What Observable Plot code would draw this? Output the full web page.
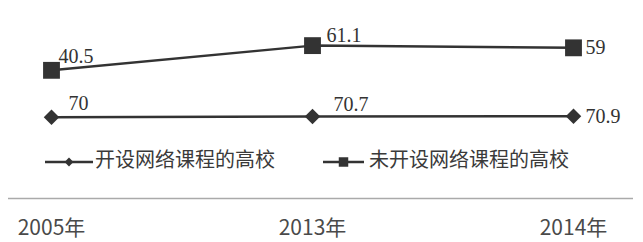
<!DOCTYPE html>
<html>
<head>
<meta charset="utf-8">
<script src="https://cdn.jsdelivr.net/npm/d3@7"></script>
<script src="https://cdn.jsdelivr.net/npm/@observablehq/plot@0.6"></script>
<style>
  html, body { margin: 0; padding: 0; background: #fff; }
  #chart svg { display: block; }
</style>
</head>
<body>
<div id="chart"></div>
<script>
// ---- data ----
const years = ["2005", "2013", "2014"];
const seriesNames = ["开设网络课程的高校", "未开设网络课程的高校"];
const offered = [70, 70.7, 70.9];        // 开设网络课程的高校
const notOffered = [40.5, 61.1, 59];     // 未开设网络课程的高校 (stacked on top)

const rows = [];
years.forEach((y, i) => rows.push({year: y, series: seriesNames[0], value: offered[i], i}));
years.forEach((y, i) => rows.push({year: y, series: seriesNames[1], value: notOffered[i], i}));

const ink = "#333";
const sansCJK = "'Noto Sans CJK SC', 'Noto Sans', sans-serif";
const stk = opts => Plot.stackY2({x: "year", y: "value", z: "series", ...opts});

// label only the selected point; others get empty text (stack still uses all rows)
const labelOf = (series, idx) => d => (d.series === series && (idx.includes(d.i))) ? String(d.value) : "";
const labelStyle = {textAnchor: "start", lineAnchor: "middle",
  fontFamily: "'Liberation Serif', serif", fontSize: 20, fill: ink};

const legend = () => {
  const g = d3.create("svg:g").attr("text-anchor", "start");
  const items = [
    {name: seriesNames[0], x0: 45, x1: 93, sym: d3.symbolDiamond2, size: 50, tx: 95},
    {name: seriesNames[1], x0: 323, x1: 364, sym: d3.symbolSquare, size: 90, tx: 369}
  ];
  for (const it of items) {
    g.append("line").attr("x1", it.x0).attr("x2", it.x1).attr("y1", 162).attr("y2", 162)
      .attr("stroke", ink).attr("stroke-width", 2.5);
    g.append("path").attr("d", d3.symbol(it.sym, it.size)())
      .attr("transform", `translate(${(it.x0 + it.x1) / 2},162)`).attr("fill", ink);
    g.append("text").attr("x", it.tx).attr("y", 160).attr("dy", "0.35em")
      .style("font-family", sansCJK).attr("font-size", 20)
      .attr("fill", "#3a3a3a").text(it.name);
  }
  return g.node();
};

const chart = Plot.plot({
  width: 643,
  height: 242,
  marginLeft: 8,
  marginRight: 10,
  marginTop: 0,
  marginBottom: 44,
  style: {fontFamily: sansCJK, background: "#fff"},
  x: {type: "point", domain: years, range: [51, 573], padding: 0},
  y: {domain: [0, 170.7], axis: null},
  r: {type: "identity"},
  symbol: {type: "identity"},
  marks: [
    Plot.ruleY([0], {stroke: "#aaa", strokeWidth: 1.5}),
    Plot.axisX({tickSize: 0, tickPadding: 22, tickFormat: d => d + "年",
      fontSize: 21, fontFamily: sansCJK, color: "#4a4a4a", label: null}),
    Plot.line(rows, stk({stroke: ink, strokeWidth: 2.5})),
    Plot.dot(rows, stk({
      symbol: d => d.series === seriesNames[0] ? "diamond2" : "square",
      r: d => d.series === seriesNames[0] ? 7 : 9.5,
      fill: ink, stroke: null})),
    Plot.text(rows, stk({...labelStyle, text: labelOf(seriesNames[1], [0]), dx: 7, dy: -14})),
    Plot.text(rows, stk({...labelStyle, text: labelOf(seriesNames[1], [1]), dx: 14, dy: -10})),
    Plot.text(rows, stk({...labelStyle, text: labelOf(seriesNames[0], [0]), dx: 17, dy: -14})),
    Plot.text(rows, stk({...labelStyle, text: labelOf(seriesNames[0], [1]), dx: 21, dy: -12})),
    Plot.text(rows, stk({...labelStyle, text: d => d.i === 2 ? String(d.value) : "", dx: 12, dy: 0})),
    legend
  ]
});
document.getElementById("chart").appendChild(chart);
</script>
</body>
</html>
